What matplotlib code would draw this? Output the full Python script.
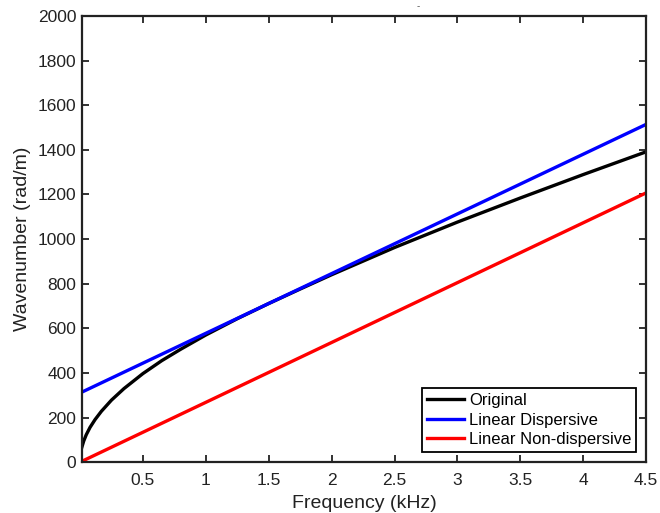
import matplotlib
matplotlib.use("Agg")
import matplotlib.pyplot as plt

plt.rcParams['font.family'] = ['Liberation Sans', 'DejaVu Sans']

# Original dispersion curve
freq_orig = [0.015, 0.03, 0.05, 0.08, 0.12, 0.17, 0.25, 0.35, 0.5, 0.65, 0.8,
             1.0, 1.25, 1.5, 1.75, 2.0, 2.5, 3.0, 3.5, 4.0, 4.5]
k_orig = [67, 95, 123, 156, 191, 228, 278, 330, 397, 455, 506,
          570, 643, 711, 776, 840, 962, 1076, 1184, 1289, 1391]

# Linear approximations
freq_lin = [0.0, 4.5]
k_disp = [310, 1514]
k_nondisp = [0, 1207]

xticks = [0.5, 1, 1.5, 2, 2.5, 3, 3.5, 4, 4.5]
xtick_labels = ['0.5', '1', '1.5', '2', '2.5', '3', '3.5', '4', '4.5']
yticks = list(range(0, 2001, 200))

fig = plt.figure(figsize=(6.6, 5.13), dpi=100)
ax = fig.add_axes([0.124, 0.099, 0.855, 0.870])

ax.plot(freq_orig, k_orig, color='black', lw=2.4, label='Original')
ax.plot(freq_lin, k_disp, color='#0000ff', lw=2.4, label='Linear Dispersive')
ax.plot(freq_lin, k_nondisp, color='#ff0000', lw=2.4, label='Linear Non-dispersive')

ax.set_xlim(0.015, 4.5)
ax.set_ylim(0, 2000)
ax.set_xticks(xticks)
ax.set_xticklabels(xtick_labels)
ax.set_yticks(yticks)
ax.tick_params(direction='in', length=5, width=1.3, labelsize=12.5,
               top=True, right=True, colors='#222222')
ax.tick_params(axis='x', pad=8)
ax.tick_params(axis='y', pad=4)
for s in ax.spines.values():
    s.set_linewidth(1.6)
    s.set_color('#222222')

ax.set_xlabel('Frequency (kHz)', fontsize=14, color='#222222', labelpad=5)
ax.set_ylabel('Wavenumber (rad/m)', fontsize=14, color='#222222', labelpad=5)

# small stray title mark above the axes
ax.text(0.596, 1.01, '-', transform=ax.transAxes, fontsize=7,
        color='#555555', ha='center', va='bottom')

leg = ax.legend(loc='lower right', fontsize=12, fancybox=False,
                framealpha=1, edgecolor='black', handlelength=2.2,
                borderpad=0.3, labelspacing=0.28, handletextpad=0.3,
                borderaxespad=0.6)
leg.get_frame().set_linewidth(1.3)

fig.savefig('out.png', dpi=100)
